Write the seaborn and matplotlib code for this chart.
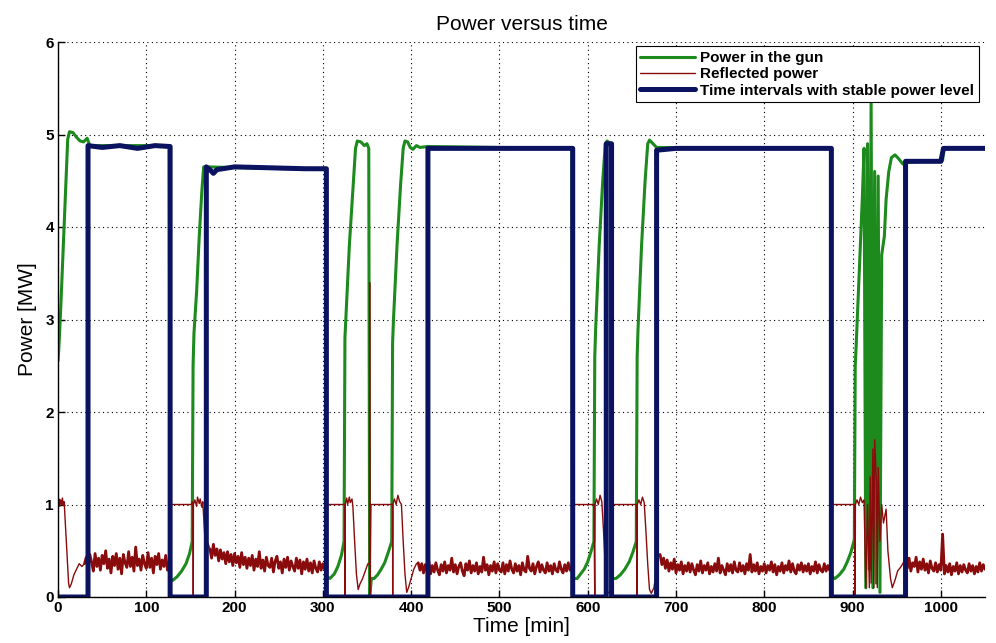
import numpy as np
import pandas as pd
import matplotlib
matplotlib.use("Agg")
import matplotlib.pyplot as plt
import seaborn as sns

sns.set_theme(style="white")
plt.rcParams["font.family"] = ["Liberation Sans Narrow", "Liberation Sans", "DejaVu Sans"]
plt.rcParams["text.color"] = "black"
plt.rcParams["axes.labelcolor"] = "black"

GREEN = "#1c8a1c"
RED = "#8a0b0b"
NAVY = "#0b1260"

# ---- Power in the gun: key samples (time [min], power [MW]) ----
gun_time = [0, 1, 3, 6, 9, 11, 13, 17, 21, 25, 29, 33, 36, 126,
            127, 130, 135, 140, 145, 149, 152, 153, 154, 157, 160, 163, 165, 168, 303,
            304, 308, 313, 317, 321, 324, 325, 326, 330, 334, 337, 339, 343, 347, 350, 352,
            353, 355, 358, 362, 366, 370, 374, 378, 379, 380, 384, 388, 391, 393, 396, 399,
            402, 406, 410, 418, 582,
            583, 588, 592, 596, 600, 604, 607, 608, 609, 613, 617, 620, 622, 626,
            628, 632, 637, 642, 647, 651, 655, 656, 657, 661, 665, 668, 670, 674, 678, 875,
            876, 880, 885, 890, 894, 898, 902, 903, 904, 908, 911, 913, 915, 917, 919,
            921, 923, 925, 927, 929, 931, 933, 936, 938, 941, 944, 948,
            952, 957, 960, 1002, 1003, 1050]
gun_power = [2.55, 2.7, 3.1, 3.8, 4.5, 4.95, 5.03, 5.02, 4.97, 4.93, 4.92, 4.96, 4.88, 4.88,
             0.2, 0.18, 0.22, 0.28, 0.36, 0.47, 0.6, 2.5, 2.85, 3.3, 3.9, 4.4, 4.65, 4.65, 4.62,
             0.22, 0.2, 0.25, 0.33, 0.45, 0.6, 2.8, 3.0, 3.8, 4.4, 4.85, 4.93, 4.92, 4.88, 4.9, 4.85,
             0.0, 0.2, 0.2, 0.24, 0.3, 0.37, 0.48, 0.6, 2.75, 3.0, 3.8, 4.45, 4.85, 4.93, 4.92, 4.86,
             4.84, 4.88, 4.86, 4.87, 4.85,
             0.2, 0.2, 0.25, 0.3, 0.38, 0.5, 0.6, 2.6, 2.9, 3.8, 4.5, 4.9, 4.93, 4.9,
             0.2, 0.2, 0.24, 0.3, 0.38, 0.48, 0.6, 2.6, 2.9, 3.8, 4.5, 4.9, 4.94, 4.9, 4.86, 4.85,
             0.22, 0.2, 0.24, 0.3, 0.38, 0.48, 0.62, 2.5, 2.7, 3.6, 4.3, 4.85, 0.1, 4.9, 0.3,
             5.35, 0.1, 4.6, 0.15, 4.55, 0.05, 3.7, 3.9, 4.3, 4.6, 4.75, 4.78,
             4.74, 4.68, 4.7, 4.72, 4.85, 4.85]

# ---- Reflected power: transitions plus noisy plateaus ----
refl_time_a = [0, 1, 2, 3, 4, 5, 6, 7, 8, 10, 12, 13, 15, 18, 21, 24, 27, 30]
refl_power_a = [1.02, 1.06, 0.98, 1.05, 1.0, 1.07, 0.99, 1.03, 0.85, 0.5, 0.15, 0.1, 0.14,
                0.24, 0.3, 0.36, 0.33, 0.36]
noise_a = [0.36, 0.43, 0.31, 0.46, 0.38, 0.28, 0.47, 0.33, 0.42, 0.29,
           0.45, 0.36, 0.50, 0.31, 0.41, 0.26, 0.44, 0.34, 0.47, 0.30,
           0.42, 0.25, 0.46, 0.37, 0.32, 0.49, 0.33, 0.43, 0.28, 0.54,
           0.34, 0.41, 0.29, 0.45, 0.36, 0.31, 0.48, 0.32, 0.42, 0.26,
           0.44, 0.35, 0.47, 0.30, 0.40, 0.33, 0.45, 0.29, 0.38]
refl_time_b = [126, 126.5, 151, 152, 153, 153.2, 153.4, 155, 157, 158, 160, 161, 163, 164,
               166, 168, 170, 172]
refl_power_b = [0.38, 1.0, 1.0, 1.03, 1.0, 0.0, 1.0, 1.05, 0.98, 1.08, 1.01, 1.06, 0.97, 1.03,
                0.7, 0.45, 0.58, 0.52]
noise_b = [0.52, 0.42, 0.57, 0.45, 0.52, 0.39, 0.51, 0.41, 0.48, 0.36,
           0.49, 0.38, 0.46, 0.34, 0.47, 0.37, 0.44, 0.32, 0.48, 0.35,
           0.43, 0.31, 0.42, 0.34, 0.45, 0.29, 0.41, 0.33, 0.49, 0.31,
           0.40, 0.28, 0.43, 0.34, 0.32, 0.42, 0.27, 0.39, 0.44, 0.31,
           0.38, 0.26, 0.41, 0.32, 0.43, 0.29, 0.39, 0.33, 0.28, 0.42,
           0.31, 0.40, 0.25, 0.38, 0.30, 0.41, 0.28, 0.37, 0.26, 0.39,
           0.31, 0.27, 0.38, 0.29, 0.36, 0.30]
refl_time_c = [302, 303.5, 324, 325, 325.1, 325.2, 327, 328, 330, 331, 333, 334, 336, 338, 340,
               342, 345, 348, 351, 352.8, 353, 353.3, 354.5, 378, 379, 379.1, 379.2, 381,
               383, 385, 387, 389, 391, 393, 395, 397, 400, 403, 406, 408]
refl_power_c = [0.30, 1.0, 1.0, 1.0, 0.0, 1.0, 1.07, 1.0, 1.08, 1.02, 1.06, 0.98, 0.6, 0.25, 0.08,
                0.14, 0.2, 0.28, 0.36, 0.35, 3.4, 0.0, 1.0, 1.0, 1.0, 0.0, 1.0, 1.06,
                1.0, 1.1, 1.03, 1.0, 0.6, 0.25, 0.05, 0.1, 0.2, 0.3, 0.36, 0.37]
noise_c = [0.37, 0.29, 0.36, 0.26, 0.35, 0.28, 0.39, 0.25, 0.34, 0.27,
           0.37, 0.29, 0.24, 0.35, 0.28, 0.38, 0.26, 0.34, 0.29, 0.42,
           0.27, 0.35, 0.25, 0.33, 0.37, 0.28, 0.23, 0.36, 0.29, 0.39,
           0.26, 0.34, 0.28, 0.37, 0.25, 0.33, 0.27, 0.43, 0.29, 0.35,
           0.24, 0.34, 0.28, 0.38, 0.26, 0.36, 0.29, 0.27, 0.37, 0.25,
           0.35, 0.28, 0.39, 0.30, 0.26, 0.36, 0.28, 0.34, 0.24, 0.37,
           0.29, 0.27, 0.44, 0.31, 0.28, 0.36, 0.25, 0.33, 0.38, 0.27,
           0.35, 0.29, 0.26, 0.37, 0.28, 0.34, 0.25, 0.36, 0.29, 0.27,
           0.38, 0.30, 0.26, 0.35, 0.28, 0.37, 0.29, 0.33]
refl_time_d = [582, 583, 607, 608, 608.2, 610, 612, 614, 616, 618, 620, 622, 628, 629, 655,
               656, 656.2, 658, 660, 662, 664, 666, 668, 670, 672, 675, 678, 680, 682]
refl_power_d = [0.33, 1.0, 1.0, 0.0, 1.0, 1.06, 1.0, 1.1, 1.03, 0.7, 0.3, 0.05, 0.05, 1.0, 1.0,
                0.0, 1.0, 1.05, 1.0, 1.08, 1.02, 0.7, 0.35, 0.08, 0.04, 0.1, 0.3, 0.45, 0.44]
noise_d = [0.46, 0.35, 0.42, 0.31, 0.40, 0.28, 0.37, 0.30, 0.41, 0.26,
           0.35, 0.29, 0.38, 0.25, 0.34, 0.28, 0.37, 0.27, 0.36, 0.29,
           0.24, 0.35, 0.28, 0.39, 0.26, 0.34, 0.29, 0.37, 0.25, 0.33,
           0.27, 0.36, 0.28, 0.42, 0.26, 0.34, 0.29, 0.24, 0.36, 0.28,
           0.35, 0.26, 0.38, 0.29, 0.27, 0.37, 0.28, 0.34, 0.25, 0.36,
           0.29, 0.46, 0.27, 0.35, 0.28, 0.37, 0.25, 0.33, 0.28, 0.36,
           0.26, 0.34, 0.29, 0.38, 0.27, 0.35, 0.24, 0.33, 0.28, 0.37,
           0.26, 0.34, 0.29, 0.39, 0.27, 0.36, 0.28, 0.25, 0.35, 0.29,
           0.37, 0.27, 0.34, 0.28, 0.36, 0.25, 0.33, 0.28, 0.38, 0.26,
           0.35, 0.29, 0.27, 0.36, 0.28, 0.34, 0.29]
refl_time_e = [874, 876, 902, 903, 903.2, 905, 907, 909, 911, 913, 915, 917, 919, 920,
               921, 923, 924, 925, 927, 928, 929, 931, 933, 935, 938, 940, 943, 945,
               948, 951, 955, 958, 960]
refl_power_e = [0.29, 1.0, 1.0, 0.0, 1.0, 1.05, 1.0, 1.08, 1.02, 1.05, 0.1, 1.0, 0.1, 1.3,
                0.15, 1.6, 0.1, 1.7, 1.25, 0.1, 1.4, 0.6, 1.0, 0.8, 0.95, 0.5, 0.2, 0.1,
                0.18, 0.28, 0.33, 0.38, 0.38]
noise_e = [0.38, 0.31, 0.42, 0.28, 0.37, 0.33, 0.43, 0.27, 0.38, 0.30,
           0.41, 0.29, 0.36, 0.26, 0.39, 0.31, 0.28, 0.37, 0.27, 0.35,
           0.29, 0.68, 0.25, 0.34, 0.27, 0.36, 0.24, 0.33, 0.28, 0.37,
           0.25, 0.34, 0.27, 0.35, 0.29, 0.26, 0.36, 0.28, 0.34, 0.25,
           0.33, 0.27, 0.37, 0.28, 0.35, 0.30]
noise_start = [30, 172, 408, 682, 960]
noise_step = 2  # minutes between noise samples

# ---- Time intervals with stable power level ----
stable_time = [0, 34, 34, 50, 70, 90, 110, 127, 127, 168, 168, 172, 176, 180, 200, 240,
               280, 304, 304, 419, 419, 500, 583, 583, 621, 621, 627, 627, 678, 678, 700,
               800, 876, 876, 960, 960, 1000, 1003, 1050]
stable_power = [0, 0, 4.88, 4.86, 4.88, 4.85, 4.88, 4.87, 0, 0, 4.65, 4.62, 4.58, 4.62,
                4.65, 4.64, 4.63, 4.63, 0, 0, 4.85, 4.85, 4.85, 0, 0, 4.9, 4.9, 0, 0,
                4.83, 4.85, 4.85, 4.85, 0, 0, 4.71, 4.71, 4.85, 4.85]

# transitions of the reflected power (thin) and its noisy plateaus (drawn heavier)
trans = pd.concat([pd.DataFrame({"time": t, "power": p, "seg": i}) for i, (t, p) in enumerate(
    [(refl_time_a, refl_power_a), (refl_time_b, refl_power_b), (refl_time_c, refl_power_c),
     (refl_time_d, refl_power_d), (refl_time_e, refl_power_e)])])
plateau = pd.concat([pd.DataFrame({"time": [s + noise_step * k for k in range(len(v))],
                                   "power": v, "seg": i})
                     for i, (s, v) in enumerate(zip(noise_start,
                                                    [noise_a, noise_b, noise_c, noise_d, noise_e]))])

gun = pd.DataFrame({"time": gun_time, "power": gun_power})
stable = pd.DataFrame({"time": stable_time, "power": stable_power})

fig = plt.figure(figsize=(9.96, 6.43), dpi=100)
ax = fig.add_axes([58 / 996, 46 / 643, 927 / 996, 555 / 643])

sns.lineplot(data=gun, x="time", y="power", sort=False, estimator=None, ax=ax,
             color=GREEN, linewidth=2.2, label="Power in the gun")
sns.lineplot(data=trans, x="time", y="power", units="seg", sort=False, estimator=None, ax=ax,
             color=RED, linewidth=1.0, label="Reflected power")
sns.lineplot(data=plateau, x="time", y="power", units="seg", sort=False, estimator=None, ax=ax,
             color=RED, linewidth=2.0, legend=False)
sns.lineplot(data=stable, x="time", y="power", sort=False, estimator=None, ax=ax,
             color=NAVY, linewidth=3.6, label="Time intervals with stable power level")

ax.set_xlim(0, 1050)
ax.set_ylim(0, 6)
ax.set_xticks(range(0, 1001, 100))
ax.set_yticks(range(0, 7))
ax.grid(True, linestyle=(0, (1, 3)), color="black", linewidth=0.8)
for s in ["top", "right"]:
    ax.spines[s].set_visible(False)
for s in ["left", "bottom"]:
    ax.spines[s].set_color("black")
    ax.spines[s].set_linewidth(1.0)
ax.tick_params(direction="in", length=5, width=1, colors="black", labelsize=11, pad=3,
               left=True, bottom=True)
for lab in ax.get_xticklabels() + ax.get_yticklabels():
    lab.set_fontweight("bold")

ax.set_title("Power versus time", fontsize=15, pad=9, color="black")
ax.set_xlabel("Time [min]", fontsize=15, labelpad=1, color="black")
ax.set_ylabel("Power [MW]", fontsize=15, labelpad=6, color="black")

# one legend entry per series (the noisy plateaus share the reflected-power entry)
wanted = ["Power in the gun", "Reflected power", "Time intervals with stable power level"]
found = {}
for line in ax.get_lines():
    if line.get_label() in wanted and line.get_label() not in found:
        found[line.get_label()] = line
leg = ax.legend([found[w] for w in wanted], wanted, loc="upper right",
                bbox_to_anchor=(0.993, 0.992), borderaxespad=0, fancybox=False, framealpha=1,
                edgecolor="black", handlelength=3.6, prop={"weight": "bold", "size": 11},
                labelspacing=0.15, borderpad=0.3, handletextpad=0.3)
leg.get_frame().set_linewidth(0.8)
for txt in leg.get_texts():
    txt.set_color("black")

fig.savefig("out.png", dpi=100)
